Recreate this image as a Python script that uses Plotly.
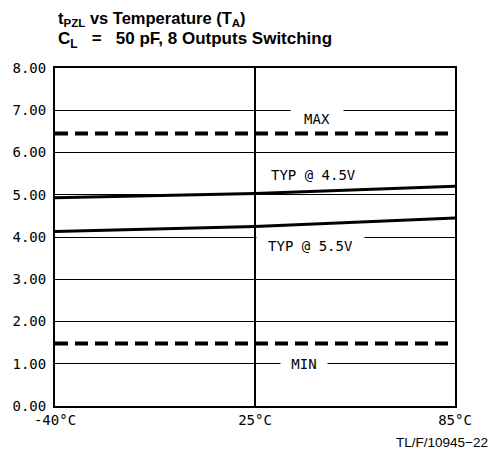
import plotly.graph_objects as go

categories = ["-40°C", "25°C", "85°C"]
typ_45 = [4.93, 5.03, 5.20]
typ_55 = [4.13, 4.25, 4.45]
max_vals = [6.45, 6.45, 6.45]
min_vals = [1.48, 1.48, 1.48]
y_ticks = [0, 1, 2, 3, 4, 5, 6, 7, 8]

xpos = list(range(len(categories)))

fig = go.Figure()
fig.add_trace(go.Scatter(x=xpos, y=max_vals, mode="lines",
                         line=dict(color="black", width=4, dash="13px,7px")))
fig.add_trace(go.Scatter(x=xpos, y=min_vals, mode="lines",
                         line=dict(color="black", width=4, dash="13px,7px")))
fig.add_trace(go.Scatter(x=xpos, y=typ_45, mode="lines",
                         line=dict(color="black", width=3)))
fig.add_trace(go.Scatter(x=xpos, y=typ_55, mode="lines",
                         line=dict(color="black", width=3)))

mono = "DejaVu Sans Mono"
lab_font = dict(family=mono, size=14, color="black")
title_font = dict(family="Liberation Sans", size=16.5, color="black")
title_font2 = dict(family="Liberation Sans", size=17, color="black")

fig.add_annotation(x=1.312, y=7.0, xref="x", yref="y", text="MAX", showarrow=False,
                   yanchor="top", yshift=1, bgcolor="white", width=48, height=14,
                   borderpad=2, font=lab_font)
fig.add_annotation(x=1.243, y=1.0, xref="x", yref="y", text="MIN", showarrow=False,
                   bgcolor="white", width=42, height=14, borderpad=2, font=lab_font)
fig.add_annotation(x=1.29, y=5.47, xref="x", yref="y", text="TYP @ 4.5V", showarrow=False,
                   font=lab_font)
fig.add_annotation(x=1.275, y=4.0, xref="x", yref="y", text="TYP @ 5.5V", showarrow=False,
                   yanchor="top", yshift=1, bgcolor="white",
                   width=103, height=14, borderpad=2, font=lab_font)
fig.add_annotation(x=1.0, y=0, xref="paper", yref="paper", text="TL/F/10945−22",
                   showarrow=False, xanchor="right", yanchor="top", yshift=-27, xshift=35,
                   font=dict(family="Liberation Sans", size=13.5, color="black"))

fig.add_annotation(x=0, y=1, xref="paper", yref="paper", xanchor="left", yanchor="middle",
                   xshift=1, yshift=49, showarrow=False,
                   text="<b>t<sub>PZL</sub> vs Temperature (T<sub>A</sub>)</b>", font=title_font)
fig.add_annotation(x=0, y=1, xref="paper", yref="paper", xanchor="left", yanchor="middle",
                   xshift=1, yshift=28, showarrow=False,
                   text="<b>C<sub>L</sub>&nbsp;&nbsp;&nbsp;=&nbsp;&nbsp;&nbsp;50 pF, 8 Outputs Switching</b>",
                   font=title_font2)

fig.update_layout(
    width=491, height=457,
    margin=dict(l=51, r=36, t=68, b=51),
    paper_bgcolor="white", plot_bgcolor="white",
    showlegend=False,
    xaxis=dict(
        range=[0, 2], tickmode="array", tickvals=xpos, ticktext=categories,
        showgrid=True, gridcolor="black", gridwidth=1.5,
        showline=True, linecolor="black", linewidth=2, mirror=True,
        ticks="", zeroline=False,
        tickfont=dict(family=mono, size=14, color="black"),
    ),
    yaxis=dict(
        range=[0, 8], tickmode="array", tickvals=y_ticks, tickformat=".2f",
        showgrid=True, gridcolor="black", gridwidth=1,
        showline=True, linecolor="black", linewidth=2, mirror=True,
        ticks="", zeroline=False, ticklabelstandoff=4,
        tickfont=dict(family=mono, size=14, color="black"),
    ),
)

fig.write_html("out.html")
